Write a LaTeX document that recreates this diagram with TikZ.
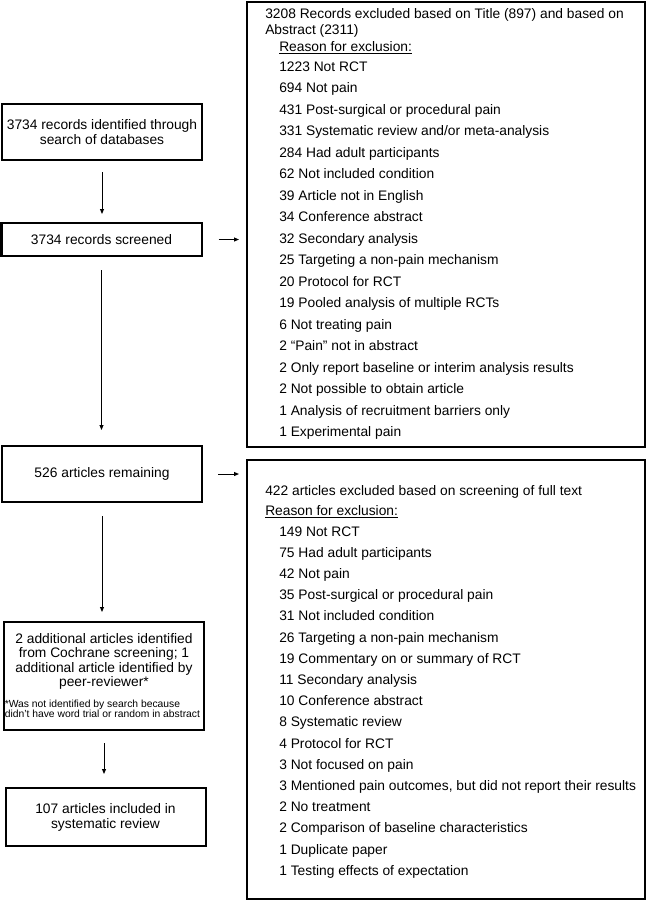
\documentclass[tikz,border=0pt]{standalone}
\usepackage{fontspec}
\setmainfont{Liberation Sans}
\usetikzlibrary{arrows.meta}
\begin{document}
\begin{tikzpicture}
        [
            x=0.75pt, y=-0.75pt,
            flow/.style={-{Triangle[length=3.75pt, width=3pt]}, line width=0.75pt},
            stagebox/.style={draw, line width=1.5pt, minimum width=150pt, inner sep=0pt, align=center, font=\fontsize{10.35}{11.25}\selectfont},
            exclbox/.style={draw, line width=1.5pt, minimum width=298.5pt, inner sep=0pt},
            reason/.style={anchor=base west, inner sep=0pt, align=left, font=\fontsize{10.35}{12}\selectfont}
        ]
        \useasboundingbox (0,0) rectangle (647,900);

        % left column
        \node[stagebox, minimum height=42pt] (search) at (102,132) {3734 records identified through\\search of databases};
        \node[stagebox, minimum height=24.75pt] (screened) at (101.5,239.5) {3734 records screened};
        \node[stagebox, minimum height=42pt] (remaining) at (102,474) {526 articles remaining};
        \node[stagebox, minimum height=81pt] (added) at (104,676) {};
        \node[align=center, inner sep=0pt, font=\fontsize{10.35}{10.8}\selectfont] (addedtxt) at (104,661.5)
            {2 additional articles identified\\from Cochrane screening; 1\\additional article identified by\\peer-reviewer*};
        \node[anchor=west, align=left, inner sep=0pt, font=\fontsize{7.75}{7.6}\selectfont] (addednote) at (4.5,709)
            {*Was not identified by search because\\didn't have word trial or random in abstract};
        \node[stagebox, minimum height=43.5pt] (included) at (105.5,817) {107 articles included in\\systematic review};

        % right column
        \node[exclbox, minimum height=333.75pt] (excl1) at (446,224.5) {};
        \node[exclbox, minimum height=329.25pt] (excl2) at (446,679.5) {};

        \node[reason] (excl1head) at (265,34) {3208 Records excluded based on Title (897) and based on\\Abstract (2311)};
        \node[reason] (excl1why) at (279,51) {\underline{Reason for exclusion:}};
        \foreach \txt [count=\i from 0] in {1223 Not RCT, 694 Not pain, 431 Post-surgical or procedural pain,
            331 Systematic review and/or meta-analysis, 284 Had adult participants, 62 Not included condition,
            39 Article not in English, 34 Conference abstract, 32 Secondary analysis,
            25 Targeting a non-pain mechanism, 20 Protocol for RCT, 19 Pooled analysis of multiple RCTs,
            6 Not treating pain, 2 “Pain” not in abstract, 2 Only report baseline or interim analysis results,
            2 Not possible to obtain article, 1 Analysis of recruitment barriers only, 1 Experimental pain}
            \node[reason] (excl1item\i) at (279,71+21.5*\i) {\txt};

        \node[reason] (excl2head) at (265,495) {422 articles excluded based on screening of full text};
        \node[reason] (excl2why) at (265,515) {\underline{Reason for exclusion:}};
        \foreach \txt [count=\i from 0] in {149 Not RCT, 75 Had adult participants, 42 Not pain,
            35 Post-surgical or procedural pain, 31 Not included condition, 26 Targeting a non-pain mechanism,
            19 Commentary on or summary of RCT, 11 Secondary analysis, 10 Conference abstract,
            8 Systematic review, 4 Protocol for RCT, 3 Not focused on pain,
            {3 Mentioned pain outcomes, but did not report their results}, 2 No treatment,
            2 Comparison of baseline characteristics, 1 Duplicate paper, 1 Testing effects of expectation}
            \node[reason] (excl2item\i) at (279,536+21.2*\i) {\txt};

        % connectors
        \draw[flow, shorten <=8.25pt, shorten >=6pt] (search.south) -- (search.south |- screened.north);
        \draw[flow, shorten <=9.75pt, shorten >=11.25pt] (screened.south) -- (screened.south |- remaining.north);
        \draw[flow, shorten <=9.75pt, shorten >=6.75pt] (remaining.south) -- (remaining.south |- added.north);
        \draw[flow, shorten <=9pt, shorten >=9.75pt] (added.south) -- (added.south |- included.north);
        \draw[flow, shorten <=12pt, shorten >=5.25pt] (screened.east) -- (screened.east -| excl1.west);
        \draw[flow, shorten <=11.25pt, shorten >=5.25pt] (remaining.east) -- (remaining.east -| excl2.west);
    \end{tikzpicture}
\end{document}
